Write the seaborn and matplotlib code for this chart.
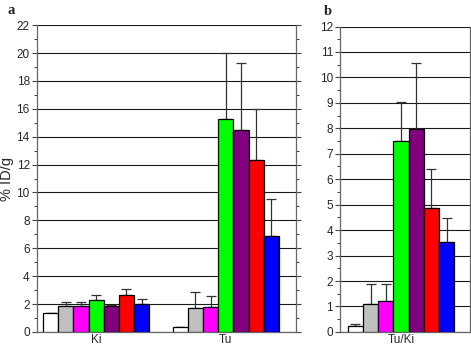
import pandas as pd
import matplotlib
matplotlib.use("Agg")
import matplotlib.pyplot as plt
import seaborn as sns

# agents (one colour each)
agents = ["A1", "A2", "A3", "A4", "A5", "A6", "A7"]
colors = ["#ffffff", "#c0c0c0", "#ff00ff", "#00ff00", "#800080", "#ff0000", "#0000ff"]

# panel a: %ID/g in kidney (Ki) and tumour (Tu)
organs = ["Ki", "Tu"]
ki_mean = [1.33, 1.88, 1.83, 2.29, 1.85, 2.63, 2.0]
ki_err = [0.04, 0.24, 0.30, 0.34, 0.05, 0.43, 0.38]
tu_mean = [0.34, 1.71, 1.80, 15.3, 14.5, 12.3, 6.85]
tu_err = [0.04, 1.13, 0.75, 4.7, 4.75, 3.7, 2.7]

# panel b: tumour / kidney ratio
ratio_cat = ["Tu/Ki"]
ratio_mean = [0.24, 1.08, 1.22, 7.5, 7.98, 4.85, 3.52]
ratio_err = [0.06, 0.79, 0.65, 1.55, 2.57, 1.57, 0.95]

df_a = pd.DataFrame({
    "organ": ["Ki"] * 7 + ["Tu"] * 7,
    "agent": agents * 2,
    "value": ki_mean + tu_mean,
    "err": ki_err + tu_err,
})
df_b = pd.DataFrame({
    "organ": ratio_cat * 7,
    "agent": agents,
    "value": ratio_mean,
    "err": ratio_err,
})

sns.set_style("white")
plt.rcParams["font.family"] = ["Liberation Sans", "DejaVu Sans"]

fig = plt.figure(figsize=(4.71, 3.49), dpi=100)
ax_a = fig.add_axes([0.078, 0.049, 0.551, 0.879])
ax_b = fig.add_axes([0.722, 0.049, 0.276, 0.875])

pal = dict(zip(agents, colors))


def draw(ax, df, order, ymax, major, minor):
    sns.barplot(data=df, x="organ", y="value", hue="agent", order=order,
                hue_order=agents, palette=pal, width=0.82, errorbar=None,
                edgecolor="black", linewidth=0.9, saturation=1, legend=False,
                ax=ax, zorder=3)
    # upper error bars placed on the bars seaborn drew
    for cont, ag in zip(ax.containers, agents):
        sub = df[df["agent"] == ag].set_index("organ").loc[order]
        xs = [p.get_x() + p.get_width() / 2 for p in cont.patches]
        ax.errorbar(xs, sub["value"], yerr=[[0] * len(xs), sub["err"]],
                    fmt="none", ecolor="#333333", elinewidth=0.9,
                    capsize=3.6, capthick=0.9, zorder=2)
    ax.set_ylim(0, ymax)
    ax.set_yticks([i * major for i in range(int(ymax / major) + 1)])
    ax.set_yticks([i * minor for i in range(int(ymax / minor) + 1)], minor=True)
    ax.yaxis.grid(True, which="major", color="#1a1a1a", linewidth=0.8)
    ax.set_axisbelow(True)
    ax.tick_params(axis="y", which="both", left=True, right=True,
                   direction="out", labelsize=8.5, length=3.5, width=0.8,
                   color="#444444", pad=1.5)
    ax.tick_params(axis="y", which="minor", length=2)
    ax.tick_params(axis="x", bottom=False, length=0, labelsize=8.5, pad=1.5)
    for s in ["left", "right", "bottom"]:
        ax.spines[s].set_visible(True)
        ax.spines[s].set_color("#666666")
        ax.spines[s].set_linewidth(0.9)
    ax.spines["top"].set_visible(False)
    ax.set_xlabel("")
    ax.set_ylabel("")


draw(ax_a, df_a, organs, 22, 2, 1)
ax_a.set_xlim(-0.458, 1.544)
ax_a.set_ylabel("% ID/g", fontsize=10.5, labelpad=2)

draw(ax_b, df_b, ratio_cat, 12, 1, 0.5)
ax_b.set_xlim(-0.469, 0.531)

fig.text(0.016, 0.988, "a", fontsize=10.5, fontweight="bold",
         family="Liberation Serif", va="top")
fig.text(0.688, 0.985, "b", fontsize=10.5, fontweight="bold",
         family="Liberation Serif", va="top")

fig.savefig("out.png", dpi=100)
